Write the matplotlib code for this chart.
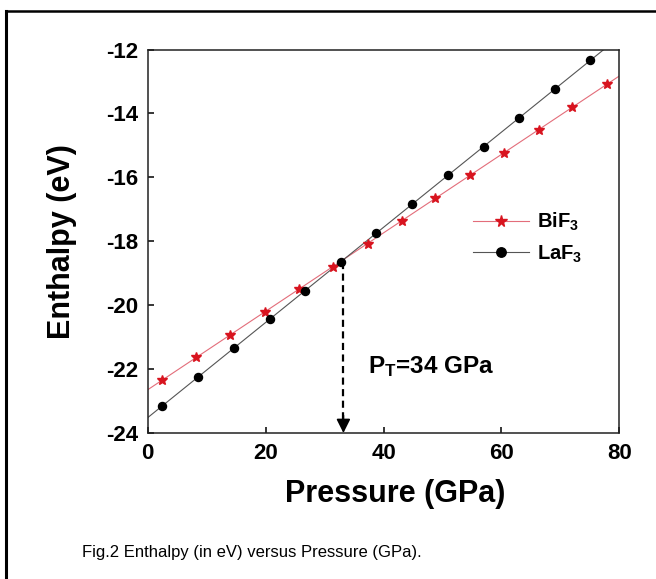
import numpy as np
import matplotlib
matplotlib.use("Agg")
import matplotlib.pyplot as plt
from matplotlib.lines import Line2D

plt.rcParams["font.family"] = ["Liberation Sans", "DejaVu Sans"]
plt.rcParams["mathtext.default"] = "regular"
plt.rcParams["axes.unicode_minus"] = False

# BiF3 (red stars)
bif3_p = [2.5, 8.2, 14.0, 19.9, 25.7, 31.4, 37.3, 43.1, 48.8, 54.6, 60.4, 66.3, 72.0, 77.9]
bif3_h = [-22.35, -21.62, -20.93, -20.21, -19.49, -18.80, -18.08, -17.36,
          -16.66, -15.94, -15.23, -14.52, -13.80, -13.09]

# LaF3 (black circles)
laf3_p = [2.5, 8.6, 14.6, 20.7, 26.7, 32.8, 38.8, 44.9, 50.9, 57.0, 63.0, 69.1, 75.1]
laf3_h = [-23.15, -22.24, -21.34, -20.44, -19.55, -18.64, -17.74, -16.83,
          -15.94, -15.04, -14.13, -13.24, -12.34]

# transition pressure marker
pt_x = 33.2
pt_top = -18.64

xticks = [0, 20, 40, 60, 80]
yticks = [-24, -22, -20, -18, -16, -14, -12]

fig = plt.figure(figsize=(6.56, 5.79), dpi=100)
ax = fig.add_axes([147.7 / 656, 1 - 433 / 579, 471.6 / 656, 383.5 / 579])

xx = np.array([0, 80])
red_line = "#e36d7a"
black_line = "#555555"

for p, h, lc, mk, mc, ms, lab in [
    (bif3_p, bif3_h, red_line, "*", "#d8141f", 7.5, "BiF$_3$"),
    (laf3_p, laf3_h, black_line, "o", "black", 5.8, "LaF$_3$"),
]:
    k, b = np.polyfit(p, h, 1)
    ax.plot(xx, k * xx + b, color=lc, lw=0.8, zorder=2)
    ax.plot(p, h, linestyle="none", marker=mk, color=mc, ms=ms, zorder=3)
    # legend proxy
    ax.plot([], [], color=lc, lw=0.8, marker=mk, mfc=mc, mec=mc, ms=ms + 1, label=lab)

# dashed arrow down to the x axis
ax.plot([pt_x, pt_x], [pt_top, -23.6], color="black", lw=1.6,
        linestyle=(0, (3.2, 2.0)), zorder=2)
ax.annotate("", xy=(pt_x, -24), xytext=(pt_x, -23.45),
            arrowprops=dict(arrowstyle="-|>", color="black", lw=1.2,
                            mutation_scale=21, shrinkA=0, shrinkB=0))

ax.text(37.3, -21.93, "P$_T$=34 GPa", fontsize=17.5, fontweight="bold",
        va="center", ha="left")

ax.set_xlim(0, 80)
ax.set_ylim(-24, -12)
ax.set_xticks(xticks)
ax.set_yticks(yticks)
ax.tick_params(direction="in", length=4.5, width=1.1, labelsize=16, pad=7)
for lbl in ax.get_xticklabels() + ax.get_yticklabels():
    lbl.set_fontweight("bold")
for s in ax.spines.values():
    s.set_linewidth(1.1)
    s.set_color("#222222")

ax.set_xlabel("Pressure (GPa)", fontsize=22, fontweight="bold")
ax.set_ylabel("Enthalpy (eV)", fontsize=22, fontweight="bold")
ax.xaxis.set_label_coords(0.524, -0.12)
ax.yaxis.set_label_coords(-0.15, 0.5)

leg = ax.legend(loc="upper left", bbox_to_anchor=(0.672, 0.60), frameon=False,
                prop=dict(size=14.5, weight="bold"), handlelength=2.8,
                handletextpad=0.4, labelspacing=0.5, borderaxespad=0)

fig.text(252 / 656, 1 - 553 / 579, "Fig.2 Enthalpy (in eV) versus Pressure (GPa).",
         fontsize=12, ha="center", va="center")

# outer frame (left and top only)
fx = 6 / 656
fy = 1 - 11 / 579
fig.add_artist(Line2D([fx, fx], [0, fy], color="black", lw=2.2))
fig.add_artist(Line2D([fx, 1], [fy, fy], color="black", lw=1.8))

fig.savefig("out.png", dpi=100, facecolor="white")
